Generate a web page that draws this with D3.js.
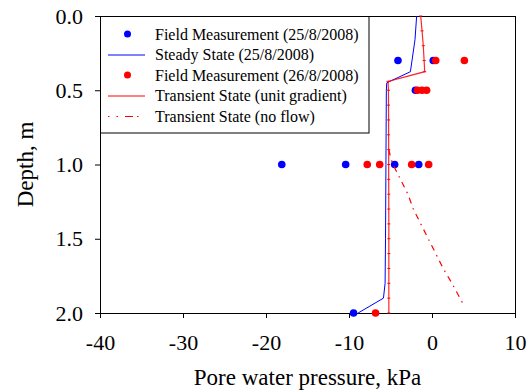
<!DOCTYPE html>
<html>
<head>
<meta charset="utf-8">
<script src="https://cdn.jsdelivr.net/npm/d3@7"></script>
<style>
  body { margin: 0; background: #fff; }
  svg text { font-family: "Liberation Serif", "Times New Roman", serif; fill: #000; }
</style>
</head>
<body>
<div id="chart"></div>
<script>
// ---------------- data (depth in m, pressure in kPa) ----------------
const field25Depth = [0.3, 0.3, 0.5, 1.0, 1.0, 1.0, 1.0, 2.0];
const field25Pwp   = [-4.1, 0.15, -2.0, -18.1, -10.4, -4.5, -1.6, -9.45];

const steadyDepth = [0, 0.16, 0.375, 0.45, 0.5, 1.0, 1.5, 1.8, 1.9, 2.0];
const steadyPwp   = [-1.85, -2.05, -2.6, -5.45, -5.5, -5.55, -5.6, -5.65, -5.85, -8.9];

const field26Depth = [0.3, 0.3, 0.5, 0.5, 0.5, 1.0, 1.0, 1.0, 1.0, 2.0];
const field26Pwp   = [0.45, 3.9, -1.75, -1.2, -0.65, -7.8, -6.3, -2.45, -0.4, -6.8];

const unitDepth = [0, 0.1, 0.2, 0.3, 0.375, 0.44, 0.5, 0.6, 0.7, 0.8, 0.9, 1.0, 1.1, 1.2, 1.3, 1.4, 1.5, 1.6, 1.7, 1.8, 1.9, 2.0];
const unitPwp   = [-1.36, -1.2, -1.05, -0.95, -0.88, -5.3, -5.25, -5.24, -5.23, -5.23, -5.22, -5.22, -5.22, -5.21, -5.21, -5.2, -5.2, -5.2, -5.2, -5.2, -5.2, -5.2];

const noFlowDepth = [0.9, 0.95, 1.0, 1.1, 1.2, 1.3, 1.4, 1.5, 1.6, 1.7, 1.8, 1.95];
const noFlowPwp   = [-5.2, -5.0, -4.7, -3.8, -2.9, -2.25, -1.35, -0.45, 0.45, 1.35, 2.4, 3.86];

const xTicks = [-40, -30, -20, -10, 0, 10];
const yTicks = [0, 0.5, 1.0, 1.5, 2.0];

const legendLabels = [
  "Field Measurement (25/8/2008)",
  "Steady State (25/8/2008)",
  "Field Measurement (26/8/2008)",
  "Transient State (unit gradient)",
  "Transient State (no flow)"
];

// ---------------- sizes ----------------
const WIDTH = 532, HEIGHT = 392;
const LEFT = 100, RIGHT = 515, TOP = 16, BOTTOM = 313;
const AXIS_FONT = 22;
const TITLE_FONT = 23;
const FONT = '"Liberation Serif", "Times New Roman", serif';
const BLUE = "#0000ff", RED = "#ff0000";
const DOT_R = 3.8;

const svg = d3.select("#chart").append("svg")
  .attr("width", WIDTH)
  .attr("height", HEIGHT);

const x = d3.scaleLinear().domain([-40, 10]).range([LEFT, RIGHT]);
const y = d3.scaleLinear().domain([0, 2]).range([TOP, BOTTOM]);

const zip = (a, b) => a.map((d, i) => [d, b[i]]);

// frame (top + right)
svg.append("rect")
  .attr("x", LEFT + 0.5).attr("y", TOP + 0.5)
  .attr("width", RIGHT - LEFT).attr("height", BOTTOM - TOP)
  .attr("fill", "none").attr("stroke", "#000");

// axes
const xAxis = svg.append("g")
  .attr("transform", `translate(0,${BOTTOM})`)
  .call(d3.axisBottom(x).tickValues(xTicks).tickSize(5).tickPadding(16).tickFormat(d => String(d)));

const yAxis = svg.append("g")
  .attr("transform", `translate(${LEFT},0)`)
  .call(d3.axisLeft(y).tickValues(yTicks).tickSize(5).tickPadding(12).tickFormat(d3.format(".1f")));

[xAxis, yAxis].forEach(g => {
  g.attr("font-family", FONT).attr("font-size", AXIS_FONT);
  g.select(".domain").attr("stroke", "#000");
  g.selectAll(".tick line").attr("stroke", "#000");
});

svg.append("text")
  .attr("x", (LEFT + RIGHT) / 2)
  .attr("y", 385)
  .attr("text-anchor", "middle")
  .style("font-size", TITLE_FONT + "px")
  .text("Pore water pressure, kPa");

svg.append("text")
  .attr("transform", `translate(33,${(TOP + BOTTOM) / 2}) rotate(-90)`)
  .attr("text-anchor", "middle")
  .style("font-size", TITLE_FONT + "px")
  .text("Depth, m");

const line = d3.line().x(d => x(d[1])).y(d => y(d[0]));

// field measurement 25/8
svg.append("g").selectAll("circle")
  .data(zip(field25Depth, field25Pwp))
  .join("circle")
  .attr("cx", d => x(d[1])).attr("cy", d => y(d[0]))
  .attr("r", DOT_R).attr("fill", BLUE);

// steady state
svg.append("path")
  .datum(zip(steadyDepth, steadyPwp))
  .attr("d", line)
  .attr("fill", "none").attr("stroke", BLUE).attr("stroke-width", 1);

// field measurement 26/8
svg.append("g").selectAll("circle")
  .data(zip(field26Depth, field26Pwp))
  .join("circle")
  .attr("cx", d => x(d[1])).attr("cy", d => y(d[0]))
  .attr("r", DOT_R).attr("fill", RED);

// transient, unit gradient (line with small node marks)
const unit = zip(unitDepth, unitPwp);
svg.append("path")
  .datum(unit)
  .attr("d", line)
  .attr("fill", "none").attr("stroke", RED).attr("stroke-width", 1.2).attr("stroke-opacity", 0.85);
svg.append("g").selectAll("line")
  .data(unit)
  .join("line")
  .attr("x1", d => x(d[1]) - 1.5).attr("x2", d => x(d[1]) + 1.5)
  .attr("y1", d => y(d[0])).attr("y2", d => y(d[0]))
  .attr("stroke", RED).attr("stroke-width", 1);

// transient, no flow
svg.append("path")
  .datum(zip(noFlowDepth, noFlowPwp))
  .attr("d", line)
  .attr("fill", "none").attr("stroke", RED).attr("stroke-width", 1.2)
  .attr("stroke-dasharray", "6,5,1.5,5");

// ---------------- legend ----------------
const LEG_X = LEFT + 0.5, LEG_Y = TOP + 0.5, LEG_W = 268.5, LEG_H = 116.5;
const legend = svg.append("g");
legend.append("rect")
  .attr("x", LEG_X).attr("y", LEG_Y)
  .attr("width", LEG_W).attr("height", LEG_H)
  .attr("fill", "#fff").attr("stroke", "#000");

const rows = legend.selectAll("g.row")
  .data(legendLabels)
  .join("g")
  .attr("class", "row")
  .attr("transform", (d, i) => `translate(0,${34 + i * 20.5})`);

rows.append("text")
  .attr("x", 155).attr("y", 0).attr("dy", "0.35em")
  .style("font-size", "16px")
  .text(d => d);

rows.each(function(d, i) {
  const g = d3.select(this);
  if (i === 0 || i === 2) {
    g.append("circle").attr("cx", 127.5).attr("cy", 0).attr("r", 3.5)
      .attr("fill", i === 0 ? BLUE : RED);
  } else {
    const ln = g.append("line").attr("x1", 108).attr("x2", 145).attr("y1", 0.5).attr("y2", 0.5)
      .attr("stroke", i === 1 ? BLUE : RED).attr("stroke-width", 1);
    if (i === 4) ln.attr("stroke-dasharray", "1.5,7,1.5,7,8,4");
  }
});
</script>
</body>
</html>
